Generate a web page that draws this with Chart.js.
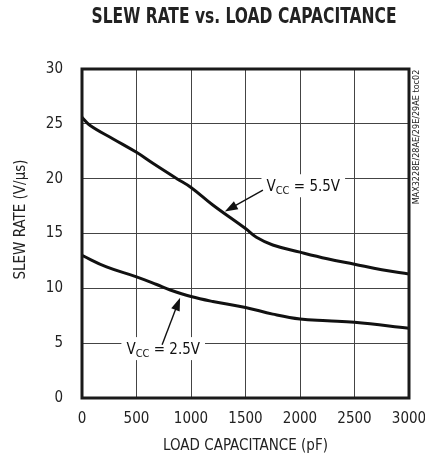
<!DOCTYPE html>
<html>
<head>
<meta charset="utf-8">
<script src="https://cdn.jsdelivr.net/npm/chart.js@4/dist/chart.umd.min.js"></script>
<style>
  html, body { margin: 0; padding: 0; background: #fff; }
  #wrap { width: 425px; height: 459px; position: relative; }
</style>
</head>
<body>
<div id="wrap"><canvas id="chart"></canvas></div>
<script>
// Slew rate vs. load capacitance, two supply voltages

// Vcc = 5.5V curve
const capHigh = [0, 75, 290, 500, 650, 870, 1000, 1200, 1500, 1600, 1750, 2000, 2250, 2500, 2750, 3000];
const rateHigh = [25.6, 24.85, 23.6, 22.4, 21.4, 20.0, 19.2, 17.6, 15.45, 14.65, 13.95, 13.3, 12.7, 12.2, 11.7, 11.3];

// Vcc = 2.5V curve
const capLow = [0, 225, 500, 685, 810, 1000, 1200, 1500, 1750, 2000, 2250, 2500, 3000];
const rateLow = [13.0, 11.95, 11.05, 10.35, 9.85, 9.25, 8.8, 8.25, 7.65, 7.2, 7.05, 6.9, 6.35];

const xTicks = [0, 500, 1000, 1500, 2000, 2500, 3000];
const yTicks = [0, 5, 10, 15, 20, 25, 30];

const supplyNames = ['5.5V', '2.5V'];

const FONT = '"Liberation Sans Narrow", "DejaVu Sans Condensed", "Roboto", sans-serif';

// curve callouts, placed in data units: label centre, arrow tail, arrow tip
const callouts = [
    { name: supplyNames[0], at: [2030, 19.4], tail: [1660, 18.95], tip: [1310, 17.0] },
    { name: supplyNames[1], at: [745, 4.55], tail: [735, 4.85], tip: [900, 9.15] }
];

function toPoints(xs, ys) {
    return xs.map((x, i) => ({ x: x, y: ys[i] }));
}

// draw "VCC = x.xV" with subscript, on a white patch
function drawVcc(ctx, cx, cy, value) {
    ctx.save();
    ctx.font = '15px ' + FONT;
    const wV = ctx.measureText('V').width;
    const rest = ' = ' + value;
    const wRest = ctx.measureText(rest).width;
    ctx.font = '11px ' + FONT;
    const wCC = ctx.measureText('CC').width;
    const w = wV + wCC + wRest;
    ctx.fillStyle = '#fff';
    ctx.fillRect(cx - w / 2 - 5, cy - 11, w + 10, 23);
    ctx.fillStyle = '#111';
    ctx.textBaseline = 'alphabetic';
    let x = cx - w / 2;
    const base = cy + 6;
    ctx.font = '15px ' + FONT;
    ctx.fillText('V', x, base);
    x += wV;
    ctx.font = '11px ' + FONT;
    ctx.fillText('CC', x, base + 3);
    x += wCC;
    ctx.font = '15px ' + FONT;
    ctx.fillText(rest, x, base);
    ctx.restore();
}

function drawArrow(ctx, x1, y1, x2, y2) {
    const ang = Math.atan2(y2 - y1, x2 - x1);
    const len = 13, half = 4.5;
    ctx.save();
    ctx.strokeStyle = '#111';
    ctx.fillStyle = '#111';
    ctx.lineWidth = 1.4;
    ctx.beginPath();
    ctx.moveTo(x1, y1);
    ctx.lineTo(x2 - Math.cos(ang) * len * 0.8, y2 - Math.sin(ang) * len * 0.8);
    ctx.stroke();
    ctx.beginPath();
    ctx.moveTo(x2, y2);
    ctx.lineTo(x2 - Math.cos(ang) * len - Math.sin(ang) * half, y2 - Math.sin(ang) * len + Math.cos(ang) * half);
    ctx.lineTo(x2 - Math.cos(ang) * len + Math.sin(ang) * half, y2 - Math.sin(ang) * len - Math.cos(ang) * half);
    ctx.closePath();
    ctx.fill();
    ctx.restore();
}

const decorations = {
    id: 'decorations',
    afterDatasetsDraw(chart) {
        const ctx = chart.ctx;
        const area = chart.chartArea;
        const sx = chart.scales.x, sy = chart.scales.y;

        // plot frame
        ctx.save();
        ctx.strokeStyle = '#1a1a1a';
        ctx.lineWidth = 3;
        ctx.strokeRect(area.left, area.top, area.right - area.left, area.bottom - area.top);
        ctx.restore();

        callouts.forEach(c => {
            drawVcc(ctx, sx.getPixelForValue(c.at[0]), sy.getPixelForValue(c.at[1]), c.name);
            drawArrow(ctx,
                sx.getPixelForValue(c.tail[0]), sy.getPixelForValue(c.tail[1]),
                sx.getPixelForValue(c.tip[0]), sy.getPixelForValue(c.tip[1]));
        });
    },
    afterDraw(chart) {
        const ctx = chart.ctx;
        const area = chart.chartArea;
        const midX = (area.left + area.right) / 2;
        const midY = (area.top + area.bottom) / 2;

        ctx.save();
        ctx.fillStyle = '#222';
        ctx.textAlign = 'center';
        ctx.textBaseline = 'middle';

        // title, condensed bold
        ctx.font = 'bold 22px ' + FONT;
        const title = 'SLEW RATE vs. LOAD CAPACITANCE';
        const tw = ctx.measureText(title).width;
        ctx.save();
        ctx.translate(244, 17);
        ctx.scale(305 / tw, 1);
        ctx.fillText(title, 0, 0);
        ctx.restore();

        // axis titles
        ctx.font = '15px ' + FONT;
        ctx.fillText('LOAD CAPACITANCE (pF)', midX, area.bottom + 48);

        ctx.save();
        ctx.translate(21, midY - 14);
        ctx.rotate(-Math.PI / 2);
        ctx.fillText('SLEW RATE (V/\u00b5s)', 0, 0);
        ctx.restore();

        // figure tag on the right edge
        ctx.save();
        ctx.font = '9px ' + FONT;
        ctx.translate(area.right + 8, area.top + 68);
        ctx.rotate(-Math.PI / 2);
        ctx.fillText('MAX3228E/28AE/29E/29AE toc02', 0, 0);
        ctx.restore();

        ctx.restore();
    }
};

Chart.defaults.font.family = FONT;
Chart.defaults.color = '#222';

new Chart(document.getElementById('chart'), {
    type: 'line',
    data: {
        datasets: [
            {
                label: 'VCC = ' + supplyNames[0],
                data: toPoints(capHigh, rateHigh),
                borderColor: '#111',
                borderWidth: 3,
                pointRadius: 0,
                tension: 0.4
            },
            {
                label: 'VCC = ' + supplyNames[1],
                data: toPoints(capLow, rateLow),
                borderColor: '#111',
                borderWidth: 3,
                pointRadius: 0,
                tension: 0.4
            }
        ]
    },
    options: {
        responsive: true,
        maintainAspectRatio: false,
        animation: false,
        layout: {
            padding: { top: 69, right: 16, bottom: 0, left: 0 }
        },
        plugins: {
            legend: { display: false },
            tooltip: { enabled: false },
            title: { display: false }
        },
        scales: {
            x: {
                type: 'linear',
                min: 0,
                max: 3000,
                afterBuildTicks: scale => { scale.ticks = xTicks.map(v => ({ value: v })); },
                afterFit: scale => {
                    scale.height = 61;
                    scale.paddingLeft = 0;
                    scale.paddingRight = 0;
                },
                grid: { color: '#444', lineWidth: 1, drawTicks: false },
                border: { display: false },
                ticks: {
                    font: { size: 15 },
                    padding: 12,
                    maxRotation: 0,
                    callback: v => String(v)
                }
            },
            y: {
                min: 0,
                max: 30,
                afterBuildTicks: scale => { scale.ticks = yTicks.map(v => ({ value: v })); },
                afterFit: scale => { scale.width = 82; },
                grid: { color: '#444', lineWidth: 1, drawTicks: false },
                border: { display: false },
                ticks: { font: { size: 15 }, padding: 19 }
            }
        }
    },
    plugins: [decorations]
});
</script>
</body>
</html>
